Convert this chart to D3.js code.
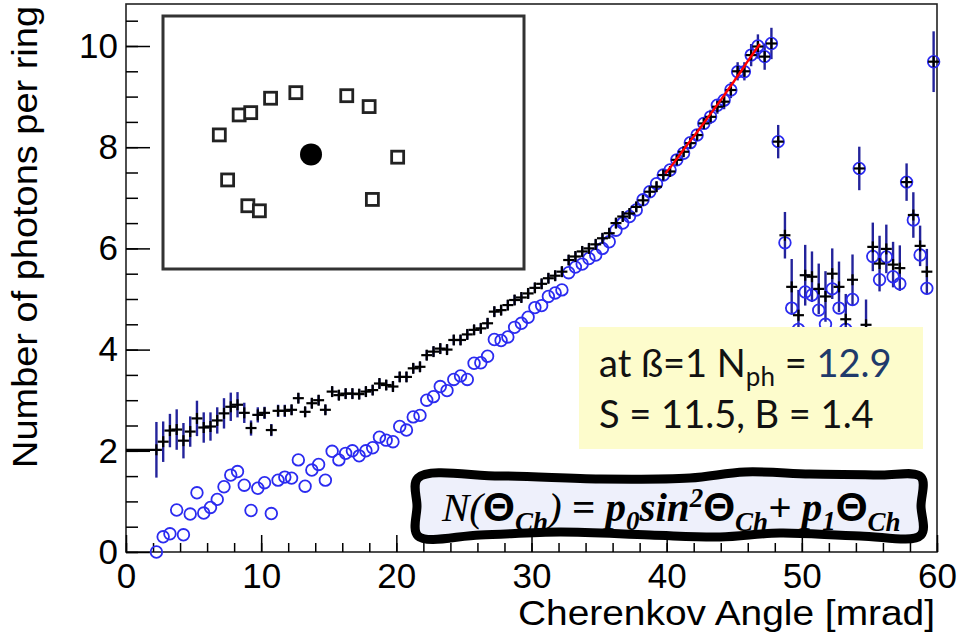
<!doctype html>
<html>
<head>
<meta charset="utf-8">
<title>Photons per ring vs Cherenkov angle</title>
<style>
  body { margin:0; background:#fff; }
  svg { display:block; }
  .axis text { font-family:Arial, "Liberation Sans", Helvetica, sans-serif; font-size:35px; fill:#000; }
  .axis path { display:none; }
  .axis line { stroke:#000; stroke-width:1.5px; }
  .title { font-family:Arial, "Liberation Sans", Helvetica, sans-serif; font-size:35px; fill:#000; }
  .box text { font-family:Lato, "Open Sans", sans-serif; font-size:38px; fill:#111; }
  .formula text { font-family:"Liberation Serif", "Times New Roman", serif; font-size:41px; font-style:italic; font-weight:bold; fill:#000; }
</style>
<script src="https://cdn.jsdelivr.net/npm/d3@7"></script>
</head>
<body>
<svg id="chart" width="957" height="634"></svg>
<script>

// bin centres [mrad], bin width 0.5
var angle = [
  2.25, 2.75, 3.25, 3.75, 4.25, 4.75, 5.25, 5.75, 6.25, 6.75,
  7.25, 7.75, 8.25, 8.75, 9.25, 9.75, 10.25, 10.75, 11.25, 11.75,
  12.25, 12.75, 13.25, 13.75, 14.25, 14.75, 15.25, 15.75, 16.25, 16.75,
  17.25, 17.75, 18.25, 18.75, 19.25, 19.75, 20.25, 20.75, 21.25, 21.75,
  22.25, 22.75, 23.25, 23.75, 24.25, 24.75, 25.25, 25.75, 26.25, 26.75,
  27.25, 27.75, 28.25, 28.75, 29.25, 29.75, 30.25, 30.75, 31.25, 31.75,
  32.25, 32.75, 33.25, 33.75, 34.25, 34.75, 35.25, 35.75, 36.25, 36.75,
  37.25, 37.75, 38.25, 38.75, 39.25, 39.75, 40.25, 40.75, 41.25, 41.75,
  42.25, 42.75, 43.25, 43.75, 44.25, 44.75, 45.25, 45.75, 46.25, 46.75,
  47.25, 47.75, 48.25, 48.75, 49.25, 49.75, 50.25, 50.75, 51.25, 51.75,
  52.25, 52.75, 53.25, 53.75, 54.25, 54.75, 55.25, 55.75, 56.25, 56.75,
  57.25, 57.75, 58.25, 58.75, 59.25, 59.75
]

// black crosses
var nCross = [
  2.02, 2.18, 2.40, 2.42, 2.20, 2.38, 2.64, 2.46, 2.48, 2.60,
  2.74, 2.87, 2.91, 2.75, 2.45, 2.71, 2.75, 2.41, 2.79, 2.79,
  2.81, 3.04, 2.77, 2.94, 3.00, 2.81, 3.17, 3.10, 3.13, 3.13,
  3.12, 3.17, 3.20, 3.33, 3.30, 3.27, 3.46, 3.46, 3.63, 3.66,
  3.89, 3.96, 4.02, 4.00, 4.19, 4.19, 4.30, 4.39, 4.42, 4.52,
  4.75, 4.78, 4.88, 4.98, 5.03, 5.11, 5.22, 5.30, 5.41, 5.46,
  5.54, 5.77, 5.84, 5.94, 6.00, 6.08, 6.20, 6.30, 6.50, 6.63,
  6.69, 6.82, 6.95, 7.12, 7.22, 7.45, 7.52, 7.75, 7.91, 8.08,
  8.24, 8.47, 8.60, 8.80, 8.90, 9.13, 9.50, 9.50, 9.82, 9.99,
  9.79, 10.05, 8.11, 6.26, 5.24, 4.68, 5.47, 5.44, 5.20, 5.05,
  5.50, 5.24, 4.60, 5.38, 7.58, 4.49, 6.03, 5.70, 5.99, 5.68,
  5.61, 7.31, 6.66, 6.05, 5.54, 9.69
]

var errCross = [
  0.55, 0.40, 0.33, 0.40, 0.35, 0.30, 0.35, 0.30, 0.28, 0.26,
  0.30, 0.28, 0.25, 0.20, 0.15, 0.15, 0.12, 0.12, 0.12, 0.12,
  0.10, 0.10, 0.10, 0.10, 0.10, 0.10, 0.10, 0.10, 0.10, 0.10,
  0.10, 0.10, 0.10, 0.10, 0.10, 0.10, 0.10, 0.10, 0.10, 0.10,
  0.10, 0.10, 0.10, 0.10, 0.10, 0.10, 0.10, 0.10, 0.10, 0.10,
  0.10, 0.10, 0.10, 0.10, 0.10, 0.10, 0.10, 0.10, 0.10, 0.10,
  0.10, 0.10, 0.10, 0.10, 0.10, 0.10, 0.10, 0.10, 0.10, 0.10,
  0.10, 0.10, 0.10, 0.10, 0.10, 0.10, 0.10, 0.10, 0.10, 0.10,
  0.12, 0.12, 0.14, 0.14, 0.15, 0.16, 0.18, 0.18, 0.22, 0.24,
  0.26, 0.31, 0.33, 0.46, 0.55, 0.50, 0.60, 0.50, 0.50, 0.50,
  0.50, 0.50, 0.50, 0.50, 0.43, 0.50, 0.48, 0.55, 0.48, 0.45,
  0.45, 0.37, 0.45, 0.40, 0.45, 0.60
]

// blue open circles
var nCircle = [
  0.00, 0.30, 0.36, 0.83, 0.34, 0.75, 1.17, 0.77, 0.88, 1.04,
  1.29, 1.52, 1.59, 1.32, 0.82, 1.26, 1.37, 0.76, 1.42, 1.48,
  1.46, 1.82, 1.30, 1.62, 1.73, 1.42, 1.99, 1.82, 1.95, 2.00,
  1.90, 2.00, 2.06, 2.27, 2.21, 2.18, 2.48, 2.41, 2.67, 2.70,
  3.00, 3.07, 3.27, 3.19, 3.41, 3.48, 3.41, 3.73, 3.74, 3.87,
  4.20, 4.18, 4.25, 4.44, 4.52, 4.64, 4.83, 4.87, 5.05, 5.12,
  5.18, 5.52, 5.63, 5.69, 5.80, 5.87, 6.00, 6.13, 6.36, 6.50,
  6.63, 6.76, 6.96, 7.12, 7.28, 7.45, 7.55, 7.75, 7.88, 8.09,
  8.24, 8.47, 8.60, 8.83, 8.93, 9.13, 9.49, 9.49, 9.82, 10.00,
  9.79, 10.05, 8.11, 6.11, 4.82, 4.40, 5.14, 5.08, 4.78, 4.50,
  5.20, 4.82, 4.40, 4.99, 7.58, 4.30, 5.84, 5.38, 5.83, 5.44,
  5.30, 7.31, 6.56, 5.87, 5.21, 9.69
]

// red fit curve
var fitX = [39.9, 40.5, 41.0, 41.5, 42.0, 42.5, 43.0, 43.5, 44.0, 44.5, 45.0, 45.5, 46.0, 46.5, 46.9]
var fitY = [7.48, 7.68, 7.86, 8.04, 8.21, 8.39, 8.57, 8.75, 8.93, 9.12, 9.31, 9.50, 9.70, 9.89, 10.04]

var xTicks = [0, 10, 20, 30, 40, 50, 60]
var yTicks = [0, 2, 4, 6, 8, 10]

// inset event display (relative units 0-100)
var hitX = [15.6, 21.1, 24.3, 29.8, 36.8, 50.9, 57.1, 65.0, 58.0, 17.9, 23.5, 26.7]
var hitY = [47.0, 39.1, 38.2, 32.5, 30.3, 31.5, 35.8, 55.8, 72.5, 64.8, 75.0, 77.0]
var centreX = [41.0]
var centreY = [54.7]

var svg = d3.select("#chart")

var x = d3.scaleLinear().domain([0, 60]).range([126, 937])
var y = d3.scaleLinear().domain([0, 10.83]).range([552, 4])

// frame
svg.append("rect")
   .attr("x", 126).attr("y", 4)
   .attr("width", 811).attr("height", 548)
   .attr("fill", "none").attr("stroke", "#222").attr("stroke-width", 1.6)

// axes (ticks point inward)
svg.append("g").attr("class", "axis")
   .attr("transform", "translate(0,552)")
   .call(d3.axisBottom(x).tickValues(d3.range(0, 61, 2)).tickSize(-9).tickFormat(""))
svg.append("g").attr("class", "axis")
   .attr("transform", "translate(0,552)")
   .call(d3.axisBottom(x).tickValues(xTicks).tickSize(-17).tickPadding(11).tickFormat(d3.format("d")))

svg.append("g").attr("class", "axis")
   .attr("transform", "translate(126,0)")
   .call(d3.axisLeft(y).tickValues(d3.range(0, 10.6, 0.5)).tickSize(-12).tickFormat(""))
svg.append("g").attr("class", "axis")
   .attr("transform", "translate(126,0)")
   .call(d3.axisLeft(y).tickValues(yTicks).tickSize(-24).tickPadding(8).tickFormat(d3.format("d")))

svg.append("text").attr("class", "title")
   .attr("x", 935).attr("y", 625)
   .attr("text-anchor", "end")
   .attr("textLength", 417).attr("lengthAdjust", "spacingAndGlyphs")
   .text("Cherenkov Angle [mrad]")

svg.append("text").attr("class", "title")
   .attr("transform", "translate(37,237) rotate(-90)")
   .attr("text-anchor", "middle")
   .attr("textLength", 462).attr("lengthAdjust", "spacingAndGlyphs")
   .text("Number of photons per ring")

// data
var pts = angle.map(function(a, i) {
  return { a: a, c: nCross[i], e: errCross[i], o: nCircle[i] }
})

var g = svg.append("g")

g.selectAll(".err").data(pts).enter()
 .append("line")
 .attr("x1", function(d){ return x(d.a) }).attr("x2", function(d){ return x(d.a) })
 .attr("y1", function(d){ return y(d.c - d.e) }).attr("y2", function(d){ return y(d.c + d.e) })
 .attr("stroke", "#23239b").attr("stroke-width", 2.4)

g.selectAll(".circ").data(pts).enter()
 .append("circle")
 .attr("cx", function(d){ return x(d.a) })
 .attr("cy", function(d){ return y(d.o) })
 .attr("r", 5.8)
 .attr("fill", "none").attr("stroke", "#2b2bf0").attr("stroke-width", 1.8)

// "+" markers
g.selectAll(".hbar").data(pts).enter()
 .append("line")
 .attr("x1", function(d, i){ return i === 0 ? x(0) : x(d.a) - 5.5 })
 .attr("x2", function(d){ return x(d.a) + 5.5 })
 .attr("y1", function(d){ return y(d.c) }).attr("y2", function(d){ return y(d.c) })
 .attr("stroke", "#000").attr("stroke-width", 2.2)
g.selectAll(".vbar").data(pts).enter()
 .append("line")
 .attr("x1", function(d){ return x(d.a) }).attr("x2", function(d){ return x(d.a) })
 .attr("y1", function(d){ return y(d.c) - 5.5 }).attr("y2", function(d){ return y(d.c) + 5.5 })
 .attr("stroke", "#000").attr("stroke-width", 2.2)

// fit
svg.append("path")
   .datum(fitX.map(function(v, i){ return [v, fitY[i]] }))
   .attr("d", d3.line().x(function(d){ return x(d[0]) }).y(function(d){ return y(d[1]) }).curve(d3.curveMonotoneX))
   .attr("fill", "none").attr("stroke", "#f00").attr("stroke-width", 2.4)

// inset
var ix = d3.scaleLinear().domain([0, 100]).range([163, 524])
var iy = d3.scaleLinear().domain([0, 100]).range([16, 269])
var inset = svg.append("g")
inset.append("rect")
     .attr("x", ix(0)).attr("y", iy(0))
     .attr("width", ix(100) - ix(0)).attr("height", iy(100) - iy(0))
     .attr("fill", "#fff").attr("stroke", "#333").attr("stroke-width", 3)
inset.selectAll(".hit").data(hitX).enter()
     .append("rect")
     .attr("x", function(d){ return ix(d) - 6 })
     .attr("y", function(d, i){ return iy(hitY[i]) - 6 })
     .attr("width", 12).attr("height", 12)
     .attr("fill", "#fff").attr("stroke", "#222").attr("stroke-width", 2.8)
inset.selectAll(".centre").data(centreX).enter()
     .append("circle")
     .attr("cx", function(d){ return ix(d) })
     .attr("cy", function(d, i){ return iy(centreY[i]) })
     .attr("r", 11).attr("fill", "#000")

// yellow result box
var box = svg.append("g").attr("class", "box")
box.append("rect")
   .attr("x", 579).attr("y", 327).attr("width", 344).attr("height", 122)
   .attr("fill", "#fdfccc")
var t1 = box.append("text").attr("x", 599).attr("y", 377)
t1.append("tspan").text("at ß=1 N")
t1.append("tspan").attr("dy", 9).style("font-size", "26px").text("ph")
t1.append("tspan").attr("dy", -9).text(" = ")
t1.append("tspan").style("fill", "#1f3a6b").text("12.9")
box.append("text").attr("x", 599).attr("y", 428).text("S = 11.5, B = 1.4")

// formula box with hand-drawn border
var outline = [[418,478],[500,476],[600,479],[690,478],[745,472],[810,474],[880,475],[921,477],
               [921,506],[921,535],[860,536],[780,533],[720,537],[650,535],[560,532],[480,535],[418,536],[417,506]]
var form = svg.append("g").attr("class", "formula")
form.append("path")
    .attr("d", d3.line().curve(d3.curveCatmullRomClosed)(outline))
    .attr("fill", "#eef0fb").attr("stroke", "#000").attr("stroke-width", 9).attr("stroke-linejoin", "round")

var f = form.append("text").attr("x", 442).attr("y", 521)
function part(s, opt) {
  var t = f.append("tspan").text(s)
  opt = opt || {}
  if (opt.dy) t.attr("dy", opt.dy)
  if (opt.size) t.style("font-size", opt.size + "px")
  if (opt.normal) t.style("font-weight", "normal")
  if (opt.theta) t.style("font-family", "Arial, 'Liberation Sans', sans-serif").style("font-style", "normal")
  return t
}
part("N(", { normal: true })
part("Θ", { theta: true })
part("Ch", { dy: 10, size: 27 })
part(")", { dy: -10, normal: true })
part(" = p")
part("0", { dy: 9, size: 27 })
part("sin", { dy: -9 })
part("2", { dy: -14, size: 27 })
part("Θ", { dy: 14, theta: true })
part("Ch", { dy: 10, size: 27 })
part("+ p", { dy: -10 })
part("1", { dy: 9, size: 27 })
part("Θ", { dy: -9, theta: true })
part("Ch", { dy: 10, size: 27 })

</script>
</body>
</html>
